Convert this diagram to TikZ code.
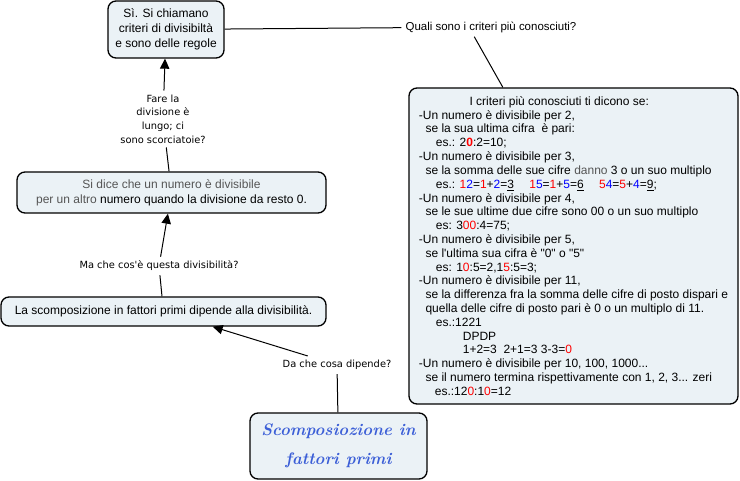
\documentclass[tikz,border=0pt]{standalone}
\usepackage{fontspec}
\usetikzlibrary{arrows.meta}
\newfontfamily\arialfont{Liberation Sans}
\newfontfamily\verdanafont{DejaVu Sans}
\definecolor{boxfill}{RGB}{235,242,246}
\definecolor{handblue}{RGB}{60,95,215}
\definecolor{darkgrey}{RGB}{85,85,85}
\newcommand{\cR}[1]{\textcolor{red}{#1}}
\newcommand{\cB}[1]{\textcolor{blue}{#1}}
\tikzset{font=\arialfont\fontsize{9}{11.25}\selectfont}

\begin{document}
\begin{tikzpicture}[x=0.75pt,y=-0.75pt]
	\useasboundingbox (0,0) rectangle (740,481);
	\begin{scope}
		\tikzstyle{every node}=[align=center, inner sep=1pt]
		\tikzstyle{concept}=[draw, line width=1pt, rounded corners=6pt, fill=boxfill]
		\tikzstyle{phrase}=[inner sep=3pt, font=\verdanafont\fontsize{7.4}{10.2}\selectfont]
		\tikzstyle{link}=[line width=0.75pt]
		\tikzstyle{arrow}=[line width=0.75pt, -{Triangle[length=7.5pt,width=7pt]}]

		\node[concept, minimum width=87pt, minimum height=42.75pt] (si) at (166, 29.5)
			{Sì. Si chiamano\\criteri di divisibiltà\\e sono delle regole};
		\node[phrase] (fare) at (163, 119)
			{Fare la\\divisione è\\lungo; ci\\sono scorciatoie?};
		\node[concept, minimum width=231.75pt, minimum height=30.75pt] (dice) at (171.5, 192.5)
			{\textcolor{darkgrey}{Si dice che un numero è divisibile}\\
			 \textcolor{darkgrey}{per un altro} numero quando la divisione da resto 0.};
		\node[phrase] (ma) at (159, 266) {Ma che cos'è questa divisibilità?};
		\node[concept, minimum width=243.75pt, minimum height=21.75pt] (scomp) at (163.5, 311.5)
			{La scomposizione in fattori primi dipende alla divisibilità.};
		\node[phrase] (da) at (337, 365) {Da che cosa dipende?};
		\node[concept, minimum width=132.75pt, minimum height=49.5pt, text=handblue,
			font=\fontsize{12.5}{21.75}\selectfont\bfseries\itshape] (main) at (338.5, 446)
			{Scomposiozione in\\fattori primi};
		\node[phrase, font=\arialfont\fontsize{8.6}{9}\selectfont] (quali) at (491, 27)
			{Quali sono i criteri più conosciuti?};

		\node[concept, minimum width=246.75pt, minimum height=237pt, inner sep=6pt,
			align=left, font=\arialfont\fontsize{9}{10.36}\selectfont] (crit) at (573.5, 246)
			{\hspace*{38pt}I criteri più conosciuti ti dicono se:\\
			-Un numero è divisibile per 2,\\
			\hspace*{5pt}se la sua ultima cifra \ è pari:\\
			\hspace*{12.75pt}es.: 2\cR{\textbf{0}}:2=10;\\
			-Un numero è divisibile per 3,\\
			\hspace*{5pt}se la somma delle sue cifre \textcolor{darkgrey}{danno} 3 o un suo multiplo\\
			\hspace*{12.75pt}es.: \cR{1}\cB{2}=\cR{1}+\cB{2}=\underline{3}\quad\
				\cR{1}\cB{5}=\cR{1}+\cB{5}=\underline{6}\quad\
				\cR{5}\cB{4}=\cR{5}+\cB{4}=\underline{9};\\
			-Un numero è divisibile per 4,\\
			\hspace*{5pt}se le sue ultime due cifre sono 00 o un suo multiplo\\
			\hspace*{12.75pt}es: 3\cR{00}:4=75;\\
			-Un numero è divisibile per 5,\\
			\hspace*{5pt}se l'ultima sua cifra è "0" o "5"\\
			\hspace*{12.75pt}es: 1\cR{0}:5=2,1\cR{5}:5=3;\\
			-Un numero è divisibile per 11,\\
			\hspace*{5pt}se la differenza fra la somma delle cifre di posto dispari e\\
			\hspace*{5pt}quella delle cifre di posto pari è 0 o un multiplo di 11.\\
			\hspace*{12.75pt}es.:1221\\
			\hspace*{33pt}DPDP\\
			\hspace*{33pt}1+2=3 \ 2+1=3 3-3=\cR{0}\\
			-Un numero è divisibile per 10, 100, 1000...\\
			\hspace*{5pt}se il numero termina rispettivamente con 1, 2, 3... zeri\\
			\hspace*{12pt}es.:12\cR{0}:1\cR{0}=12};

		\draw[arrow] (fare) -- (si);
		\draw[link] (dice) -- (fare);
		\draw[arrow] (ma) -- (dice);
		\draw[link] (scomp) -- (ma);
		\draw[arrow] (da) -- (scomp);
		\draw[link] (main) -- (da);
		\draw[link] (si) -- (quali);
		\draw[link] (quali.210) -- (crit.114);
	\end{scope}
\end{tikzpicture}
\end{document}
